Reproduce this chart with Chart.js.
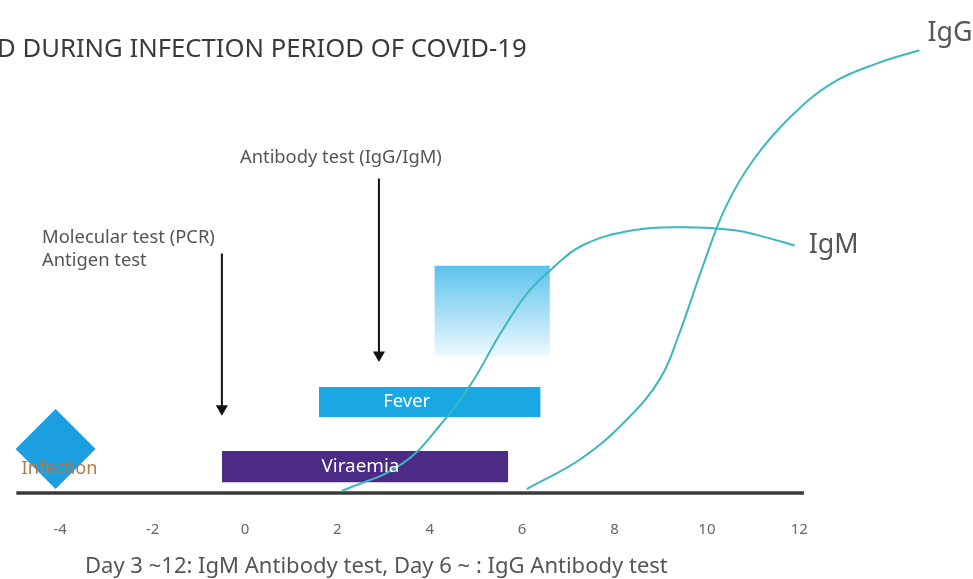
<!DOCTYPE html>
<html>
<head>
<meta charset="utf-8">
<script src="https://cdn.jsdelivr.net/npm/chart.js@4.4.1/dist/chart.umd.min.js"></script>
<style>
  html, body { margin: 0; padding: 0; background: #fff; }
  #contenedor { width: 973px; height: 579px; }
</style>
</head>
<body>
<div id="contenedor"><canvas id="grafico"></canvas></div>
<script>
// dias desde la infeccion
const diasTicks = [-4, -2, 0, 2, 4, 6, 8, 10, 12];
const ejeDesde = -4.95, ejeHasta = 12.1;

// curvas de anticuerpos (x = dia, y = nivel relativo 0-100)
const igmDias  = [2.1, 3.4, 4.3, 4.9, 5.5, 6.1, 6.6, 7.3, 8.4, 9.5, 10.6, 11.3, 11.9];
const igmNivel = [0.4, 5.9, 14.6, 22.2, 31.9, 40.4, 45.1, 50.2, 53.3, 53.9, 53.3, 51.8, 50.2];
const iggDias  = [6.1, 7.3, 8.3, 9.0, 9.4, 9.9, 10.4, 11.0, 11.8, 12.7, 13.7, 14.6];
const iggNivel = [0.8, 7.1, 15.2, 23.4, 32.3, 45.7, 57.9, 67.5, 76.2, 83.1, 87.2, 89.8];

// periodos (barras)
const periodos      = ['Fever', 'Viraemia'];
const periodoInicio = [1.6, -0.5];
const periodoFin    = [6.4, 5.7];
const periodoBajo   = [15.4, 2.2];
const periodoAlto   = [21.5, 8.5];
const periodoTexto  = [3.5, 2.5];

// ventana de anticuerpos
const ventanaDias  = [4.1, 6.6];
const ventanaNivel = [27.8, 46.1];

// pruebas (flechas)
const pruebas      = [['Molecular test (PCR)', 'Antigen test'], ['Antibody test (IgG/IgM)']];
const pruebaDia    = [-0.5, 2.9];
const pruebaDesde  = [48.6, 63.8];
const pruebaHasta  = [15.7, 26.6];

// infeccion
const infeccionDia = -4.1, infeccionNivel = 8.9;

const fuente = '"Noto Sans", "Open Sans", sans-serif';

function ajustar(ctx, texto, ancho, peso) {
    ctx.font = (peso || '') + ' 100px ' + fuente;
    let w = ctx.measureText(texto).width;
    let size = 100 * ancho / w;
    ctx.font = (peso || '') + ' ' + size + 'px ' + fuente;
    return size;
}

const textos = {
    id: 'textos',
    afterDatasetsDraw(chart) {
        const ctx = chart.ctx;
        const x = chart.scales.x, y = chart.scales.y;
        const abajo = chart.chartArea.bottom;
        ctx.save();
        ctx.textBaseline = 'middle';

        // titulo (cortado a la izquierda)
        ctx.fillStyle = '#3a3a3a';
        ctx.textAlign = 'left';
        ajustar(ctx, 'D DURING INFECTION PERIOD OF COVID-19', 530);
        ctx.fillText('D DURING INFECTION PERIOD OF COVID-19', -3, 50);

        // textos de las pruebas
        ctx.fillStyle = '#555';
        ctx.textAlign = 'left';
        ajustar(ctx, pruebas[0][0], 173);
        ctx.fillText(pruebas[0][0], 42, 238);
        ctx.fillText(pruebas[0][1], 42, 261);
        ajustar(ctx, pruebas[1][0], 202);
        ctx.fillText(pruebas[1][0], 240, 158);

        // etiquetas de curvas
        ctx.fillStyle = '#555';
        ajustar(ctx, 'IgG', 45);
        ctx.fillText('IgG', x.getPixelForValue(iggDias[iggDias.length - 1]) + 8, y.getPixelForValue(iggNivel[iggNivel.length - 1]) - 17);
        ajustar(ctx, 'IgM', 50);
        ctx.fillText('IgM', x.getPixelForValue(igmDias[igmDias.length - 1]) + 14, y.getPixelForValue(igmNivel[igmNivel.length - 1]));

        // textos de barras
        ctx.fillStyle = '#ffffff';
        ctx.textAlign = 'center';
        ajustar(ctx, 'Fever', 47);
        ctx.fillText('Fever', x.getPixelForValue(periodoTexto[0]), y.getPixelForValue((periodoBajo[0] + periodoAlto[0]) / 2));
        ajustar(ctx, 'Viraemia', 78);
        ctx.fillText('Viraemia', x.getPixelForValue(periodoTexto[1]), y.getPixelForValue((periodoBajo[1] + periodoAlto[1]) / 2));

        // infeccion
        ctx.fillStyle = '#b07a48';
        ajustar(ctx, 'Infection', 76);
        ctx.fillText('Infection', x.getPixelForValue(infeccionDia) + 4, y.getPixelForValue(infeccionNivel) + 20);

        // nota inferior
        ctx.fillStyle = '#555';
        ctx.textAlign = 'left';
        ajustar(ctx, 'Day 3 ~12: IgM Antibody test, Day 6 ~ : IgG Antibody test', 583);
        ctx.fillText('Day 3 ~12: IgM Antibody test, Day 6 ~ : IgG Antibody test', 85, abajo + 74);

        ctx.restore();
    }
};

function puntos(xs, ys) {
    return xs.map((v, i) => ({ x: v, y: ys[i] }));
}

let conjuntos = [];

conjuntos.push({
    data: puntos(igmDias, igmNivel),
    borderColor: '#3bb8bf', borderWidth: 2, pointRadius: 0,
    tension: 0.4
});
conjuntos.push({
    data: puntos(iggDias, iggNivel),
    borderColor: '#3bb8bf', borderWidth: 2, pointRadius: 0,
    tension: 0.4
});

// flechas
for (let i = 0; i < pruebaDia.length; i++) {
    conjuntos.push({
        data: [{ x: pruebaDia[i], y: pruebaDesde[i] }, { x: pruebaDia[i], y: pruebaHasta[i] + 1.4 }],
        borderColor: '#111', borderWidth: 2,
        pointRadius: [0, 7], pointStyle: 'triangle', rotation: 180,
        pointBackgroundColor: '#111', pointBorderWidth: 0
    });
}

// linea base
conjuntos.push({
    data: [{ x: ejeDesde, y: 0 }, { x: ejeHasta, y: 0 }],
    borderColor: '#3a3a3a', borderWidth: 3.5, pointRadius: 0
});

// infeccion
conjuntos.push({
    data: [{ x: infeccionDia, y: infeccionNivel }],
    pointStyle: 'rectRot', pointRadius: 40,
    pointBackgroundColor: '#1c9fe0', pointBorderWidth: 0, showLine: false
});

// barras de periodos
const coloresPeriodo = ['#1aa8e2', '#4c2b86'];
for (let i = 0; i < periodos.length; i++) {
    conjuntos.push({
        data: [{ x: periodoInicio[i], y: periodoAlto[i] }, { x: periodoFin[i], y: periodoAlto[i] }],
        borderWidth: 0, pointRadius: 0,
        backgroundColor: coloresPeriodo[i],
        fill: { value: periodoBajo[i] }
    });
}

// ventana con degradado
conjuntos.push({
    data: [{ x: ventanaDias[0], y: ventanaNivel[1] }, { x: ventanaDias[1], y: ventanaNivel[1] }],
    borderWidth: 0, pointRadius: 0,
    fill: { value: ventanaNivel[0] },
    backgroundColor: function (context) {
        const chart = context.chart;
        if (!chart.chartArea) return 'rgba(0,0,0,0)';
        const y = chart.scales.y;
        const g = chart.ctx.createLinearGradient(0, y.getPixelForValue(ventanaNivel[1]), 0, y.getPixelForValue(ventanaNivel[0]));
        g.addColorStop(0, '#5bc2ee');
        g.addColorStop(1, '#eef9fe');
        return g;
    }
});

const grafico = new Chart(document.getElementById('grafico'), {
    type: 'line',
    data: { datasets: conjuntos },
    plugins: [textos],
    options: {
        responsive: true,
        maintainAspectRatio: false,
        animation: false,
        clip: false,
        layout: { autoPadding: false, padding: { left: 14, right: 12, top: 0, bottom: 12 } },
        plugins: { legend: { display: false }, tooltip: { enabled: false } },
        scales: {
            x: {
                type: 'linear', min: -5, max: 15.5,
                afterBuildTicks: s => { s.ticks = diasTicks.map(v => ({ value: v })); },
                grid: { display: false, drawTicks: false },
                border: { display: false },
                ticks: { color: '#666', font: { size: 15, family: fuente }, padding: 28, maxRotation: 0, autoSkip: false }
            },
            y: { type: 'linear', min: 0, max: 100, display: false }
        }
    }
});
</script>
</body>
</html>
